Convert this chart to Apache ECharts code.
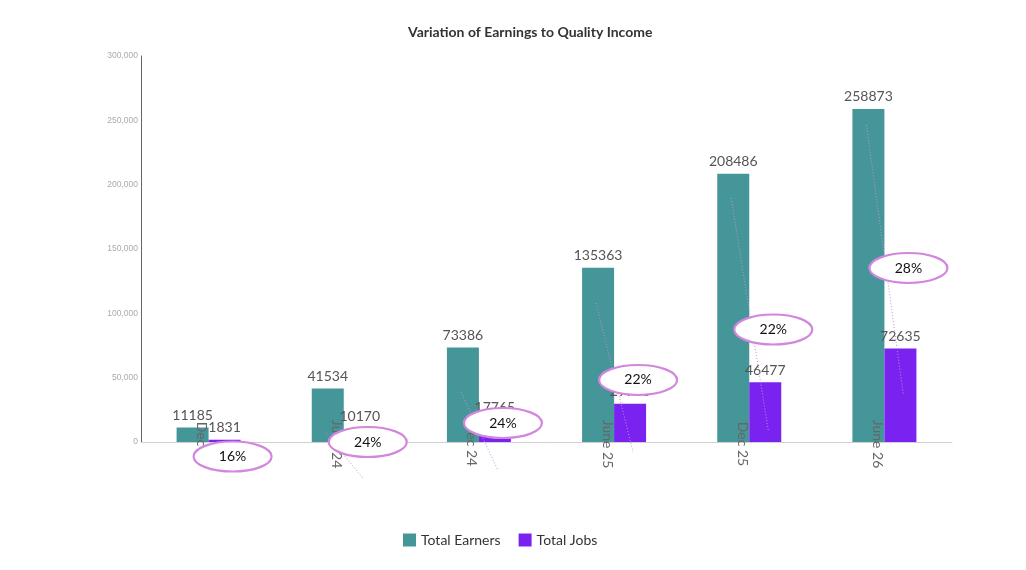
<!DOCTYPE html>
<html><head><meta charset="utf-8">
<script src="https://cdn.jsdelivr.net/npm/echarts@6/dist/echarts.min.js"></script>
<style>html,body{margin:0;padding:0;background:#fff}#c{width:1026px;height:570px}</style>
</head><body><div id="c"></div>
<script>
const categories = ['Dec 23', 'June 24', 'Dec 24', 'June 25', 'Dec 25', 'June 26'];
const totalEarners = [11185, 41534, 73386, 135363, 208486, 258873];
const totalJobs = [1831, 10170, 17765, 29780, 46477, 72635];
const percentLabels = ['16%', '24%', '24%', '22%', '22%', '28%'];
// callout levels (axis units)
const calloutLevel = [-11270, 0, 14770, 48200, 87440, 135240];
const leaderFrom = [null, 7000, 38900, 108000, 189600, 246400];
const leaderTo = [null, -28000, -21800, -7800, 9300, 36500];
const yTicks = [0, 300000, 50000];

const chart = echarts.init(document.getElementById('c'));
const calloutData = categories.map((c, i) => [i, calloutLevel[i], leaderFrom[i], leaderTo[i], percentLabels[i]]);

chart.setOption({
  animation: false,
  textStyle: { fontFamily: 'Lato' },
  title: {
    text: 'Variation of Earnings to Quality Income',
    left: 403, top: 20,
    textStyle: { fontFamily: 'Lato', fontWeight: 'bold', fontSize: 14, color: '#333' }
  },
  legend: {
    left: 398, top: 528,
    itemWidth: 13, itemHeight: 13, itemGap: 18,
    icon: 'rect',
    textStyle: { fontFamily: 'Lato', fontSize: 14, color: '#333' },
    data: ['Total Earners', 'Total Jobs']
  },
  grid: { left: 141, right: 74, top: 56, bottom: 128, containLabel: false },
  xAxis: {
    type: 'category', data: categories, z: 3,
    axisLine: { lineStyle: { color: '#d0d0d0', width: 1 } },
    axisTick: { show: false },
    axisLabel: {
      rotate: -90, margin: 2, align: 'center', verticalAlign: 'top',
      fontFamily: 'Lato', fontSize: 14, color: '#666'
    }
  },
  yAxis: {
    type: 'value', min: yTicks[0], max: yTicks[1], interval: yTicks[2],
    axisLine: { show: true, lineStyle: { color: '#666', width: 1 } },
    axisTick: { show: false },
    splitLine: { show: false },
    axisLabel: {
      margin: 3, fontFamily: 'Arial', fontSize: 8.5, color: '#aaa',
      formatter: v => v.toLocaleString('en-US')
    }
  },
  series: [
    {
      name: 'Total Earners', type: 'bar', data: totalEarners, z: 2,
      barWidth: 32, barGap: '0%',
      itemStyle: { color: '#459699' },
      label: { show: true, position: 'top', distance: 5, fontFamily: 'Lato', fontSize: 14, color: '#555' }
    },
    {
      name: 'Total Jobs', type: 'bar', data: totalJobs, z: 2,
      barWidth: 32, barGap: '0%',
      itemStyle: { color: '#7a23f0' },
      label: { show: true, position: 'top', distance: 5, fontFamily: 'Lato', fontSize: 14, color: '#555' }
    },
    {
      type: 'custom', z: 6, clip: false, silent: true,
      data: calloutData,
      encode: { x: 0, y: 1 },
      renderItem: function (params, api) {
        const i = api.value(0);
        const c = api.coord([i, api.value(1)]);
        const children = [];
        const f = api.value(2), t = api.value(3);
        if (f !== null && !isNaN(f) && t !== null && !isNaN(t)) {
          const p1 = api.coord([i, f]);
          const p2 = api.coord([i, t]);
          children.push({
            type: 'line',
            shape: { x1: p1[0] - 18, y1: p1[1], x2: p2[0] + 19, y2: p2[1] },
            style: { stroke: '#c88bd8', lineWidth: 1, lineDash: [1, 2] }
          });
        }
        const cx = c[0] + 24;
        children.push({
          type: 'ellipse',
          shape: { cx: cx, cy: c[1], rx: 39, ry: 15 },
          style: { fill: '#fff', stroke: '#d386dd', lineWidth: 2.2 }
        });
        children.push({
          type: 'text',
          style: {
            x: cx, y: c[1], text: calloutData[params.dataIndex][4],
            align: 'center', verticalAlign: 'middle',
            fontFamily: 'Lato', fontSize: 14, fill: '#111'
          }
        });
        return { type: 'group', children: children };
      }
    }
  ]
});
</script>
</body></html>
